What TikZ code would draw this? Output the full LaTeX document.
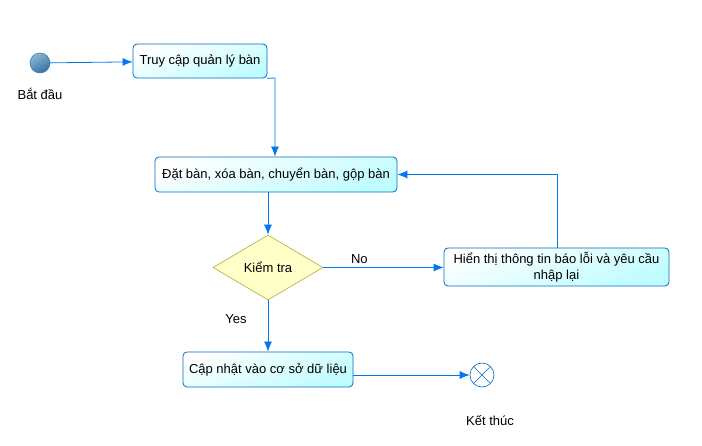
\documentclass[tikz,border=0pt]{standalone}
\usepackage{fontspec}
\setmainfont{Liberation Sans}
\usetikzlibrary{arrows.meta,shapes.geometric,calc}
\definecolor{lineblue}{RGB}{0,120,240}
\definecolor{boxborder}{RGB}{0,110,190}
\definecolor{boxfill}{RGB}{190,252,255}
\definecolor{dfill}{RGB}{255,255,200}
\definecolor{dborder}{RGB}{180,170,60}
\definecolor{startlight}{RGB}{140,180,210}
\definecolor{startdark}{RGB}{50,115,165}
\tikzset{
  actbox/.style={draw=boxborder, line width=0.8pt, rounded corners=4pt,
    shading=axis, top color=white, bottom color=boxfill, shading angle=20,
    inner sep=0pt, font=\fontsize{13}{16}\selectfont, align=center},
  flow/.style={draw=lineblue, line width=0.8pt, -{Latex[length=10pt,width=8pt]}},
  lbl/.style={font=\fontsize{13}{15}\selectfont, inner sep=0pt},
}
\begin{document}
\begin{tikzpicture}[x=1pt,y=-1pt]
\useasboundingbox (0,0) rectangle (702,446);
\fill[white] (0,0) rectangle (702,446);
% start
\node[circle, minimum size=20pt, inner sep=0pt, draw=startdark, line width=0.5pt, shading=axis, top color=startlight, bottom color=startdark, shading angle=30] (start) at (40,63) {};
\node[lbl] (startlbl) at (40,94) {Bắt đầu};
% boxes
\node[actbox, minimum width=134pt, minimum height=34pt] (b1) at (200,61) {Truy cập quản lý bàn};
\node[actbox, minimum width=242pt, minimum height=35pt] (b2) at (276,174.5) {Đặt bàn, xóa bàn, chuyển bàn, gộp bàn};
\node[diamond, aspect=1.7, draw=dborder, fill=dfill, line width=0.6pt, minimum width=110pt, minimum height=65pt, inner sep=0pt, font=\fontsize{13}{15}\selectfont] (d) at (268,267.5) {Kiểm tra};
\node[actbox, minimum width=225pt, minimum height=38pt] (b3) at (556.5,267) {Hiển thị thông tin báo lỗi và yêu cầu\\nhập lại};
\node[actbox, minimum width=170pt, minimum height=35pt] (b4) at (268,369.5) {Cập nhật vào cơ sở dữ liệu};
% end
\node[circle, minimum size=24pt, inner sep=0pt, draw=boxborder, line width=0.6pt, fill=white,
  path picture={\draw[boxborder, line width=0.6pt] (path picture bounding box.north west) -- (path picture bounding box.south east) (path picture bounding box.north east) -- (path picture bounding box.south west);}] (end) at (482,375) {};
\node[lbl] (endlbl) at (490,421) {Kết thúc};
% connectors
\coordinate (c1) at (275,78);
\draw[flow] (start) -- (b1);
\draw[flow] (b1.south east) -- (c1) -- (c1 |- b2.north);
\draw[flow] (b2.south -| d.north) -- (d.north);
\draw[flow] (d.east) -- node[lbl, above=3pt, pos=0.3] (no) {No} (b3.west |- d.east);
\coordinate (c2) at (557,174.5);
\draw[flow] (b3.north -| c2) -- (c2) -- (b2.east);
\draw[flow] (d.south) -- (b4.north);
\node[lbl] (yes) at (236,319) {Yes};
\draw[flow] (b4.east |- end) -- (end.west);
\end{tikzpicture}
\end{document}
